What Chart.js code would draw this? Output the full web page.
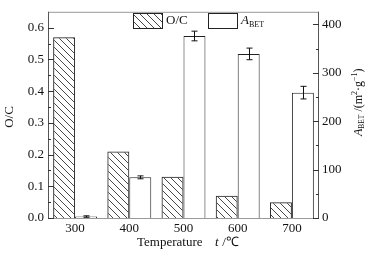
<!DOCTYPE html>
<html>
<head>
<meta charset="utf-8">
<script src="https://cdn.jsdelivr.net/npm/chart.js@4.4.1/dist/chart.umd.min.js"></script>
<style>
  html, body { margin: 0; padding: 0; background: #fff; }
  #wrap { width: 379px; height: 256px; }
</style>
</head>
<body>
<div id="wrap"><canvas id="myChart" width="379" height="256"></canvas></div>
<script>
// dati
const temps = ['300', '400', '500', '600', '700'];
const ocRatio = [0.57, 0.21, 0.13, 0.07, 0.05];
const aBet = [3, 84, 376, 339, 259];
const aBetErr = [1.5, 3, 10, 12, 13];
const ocTicks = [0, 0.1, 0.2, 0.3, 0.4, 0.5, 0.6];
const betTicks = [0, 100, 200, 300, 400];

const FONT = '"Liberation Serif", "Times New Roman", serif';

// pattern a righe diagonali (\\\)
function makeHatch() {
    const s = 7;
    const c = document.createElement('canvas');
    c.width = s; c.height = s;
    const g = c.getContext('2d');
    g.strokeStyle = '#333';
    g.lineWidth = 0.9;
    for (const k of [-s, 0, s]) {
        g.beginPath();
        g.moveTo(k, 0);
        g.lineTo(k + s, s);
        g.stroke();
    }
    return g.createPattern(c, 'repeat');
}
const hatch = makeHatch();

// testo con pedice (es. A_BET)
function drawSub(ctx, x, y, main, sub, rest, size) {
    ctx.font = 'italic ' + size + 'px ' + FONT;
    ctx.fillText(main, x, y);
    x += ctx.measureText(main).width;
    ctx.font = (size * 0.62) + 'px ' + FONT;
    ctx.fillText(sub, x, y + size * 0.28);
    x += ctx.measureText(sub).width;
    if (rest) {
        ctx.font = size + 'px ' + FONT;
        ctx.fillText(rest, x, y);
        x += ctx.measureText(rest).width;
    }
    return x;
}

const decorPlugin = {
    id: 'decor',
    beforeDatasetsDraw(chart) {
        const ctx = chart.ctx;
        const a = chart.chartArea;
        ctx.save();
        ctx.strokeStyle = '#999';
        ctx.lineWidth = 1;
        ctx.strokeRect(a.left + 0.5, a.top + 0.5, a.right - a.left - 1, a.bottom - a.top);
        ctx.restore();
    },
    afterDatasetsDraw(chart) {
        const ctx = chart.ctx;
        const a = chart.chartArea;
        const y = chart.scales.y, y1 = chart.scales.y1;
        ctx.save();
        // asse sinistro e destro
        ctx.strokeStyle = '#555';
        ctx.lineWidth = 1;
        ctx.beginPath();
        ctx.moveTo(a.left + 0.5, a.top); ctx.lineTo(a.left + 0.5, a.bottom);
        ctx.moveTo(a.right - 0.5, a.top); ctx.lineTo(a.right - 0.5, a.bottom);
        ctx.stroke();
        // tacche verso l'interno
        ctx.strokeStyle = '#333';
        ctx.beginPath();
        for (let v = 0; v <= 0.6001; v += 0.05) {
            const p = Math.round(y.getPixelForValue(v)) + 0.5;
            const major = Math.abs(v * 10 - Math.round(v * 10)) < 1e-6;
            ctx.moveTo(a.left, p); ctx.lineTo(a.left + (major ? 6 : 3), p);
        }
        for (let v = 0; v <= 400; v += 50) {
            const p = Math.round(y1.getPixelForValue(v)) + 0.5;
            const major = v % 100 === 0;
            ctx.moveTo(a.right, p); ctx.lineTo(a.right - (major ? 6 : 3), p);
        }
        ctx.stroke();

        // barre di errore
        const meta = chart.getDatasetMeta(1);
        ctx.strokeStyle = '#111';
        ctx.lineWidth = 1;
        meta.data.forEach((bar, i) => {
            const x = Math.round(bar.x) + 0.5;
            const top = y1.getPixelForValue(aBet[i] + aBetErr[i]);
            const bot = y1.getPixelForValue(aBet[i] - aBetErr[i]);
            ctx.beginPath();
            ctx.moveTo(x, top); ctx.lineTo(x, bot);
            ctx.moveTo(x - 3, top); ctx.lineTo(x + 3, top);
            ctx.moveTo(x - 3, bot); ctx.lineTo(x + 3, bot);
            ctx.stroke();
        });

        // legenda
        ctx.fillStyle = hatch;
        ctx.fillRect(133, 13, 29, 15);
        ctx.strokeStyle = '#222';
        ctx.strokeRect(133.5, 13.5, 29, 15);
        ctx.fillStyle = '#fff';
        ctx.fillRect(208, 13, 29, 15);
        ctx.strokeRect(208.5, 13.5, 29, 15);
        ctx.fillStyle = '#111';
        ctx.textBaseline = 'middle';
        ctx.textAlign = 'left';
        ctx.font = '13px ' + FONT;
        ctx.fillText('O/C', 166, 21);
        drawSub(ctx, 241, 21, 'A', 'BET', '', 13);

        // titoli degli assi
        ctx.font = '13px ' + FONT;
        ctx.textAlign = 'center';
        ctx.save();
        ctx.translate(10, 117);
        ctx.rotate(-Math.PI / 2);
        ctx.fillText('O/C', 0, 0);
        ctx.restore();

        ctx.save();
        ctx.translate(359, 103);
        ctx.rotate(-Math.PI / 2);
        ctx.textAlign = 'left';
        drawSub(ctx, -33, 0, 'A', 'BET', ' /(m', 12);
        let xx = -33;
        ctx.font = 'italic 12px ' + FONT;
        xx += ctx.measureText('A').width;
        ctx.font = (12 * 0.62) + 'px ' + FONT;
        xx += ctx.measureText('BET').width;
        ctx.font = '12px ' + FONT;
        xx += ctx.measureText(' /(m').width;
        ctx.font = '8px ' + FONT;
        ctx.fillText('2', xx, -4);
        xx += ctx.measureText('2').width;
        ctx.font = '12px ' + FONT;
        ctx.fillText('\u00b7g', xx, 0);
        xx += ctx.measureText('\u00b7g').width;
        ctx.font = '8px ' + FONT;
        ctx.fillText('\u22121', xx, -4);
        xx += ctx.measureText('\u22121').width;
        ctx.font = '12px ' + FONT;
        ctx.fillText(')', xx, 0);
        ctx.restore();

        ctx.textAlign = 'left';
        ctx.font = '13px ' + FONT;
        ctx.fillText('Temperature', 137, 243);
        ctx.font = 'italic 13px ' + FONT;
        ctx.fillText('t', 215, 243);
        ctx.font = '13px ' + FONT;
        ctx.fillText(' /\u2103', 219, 243);
        ctx.restore();
    }
};

const chartConfig = {
    type: 'bar',
    data: {
        labels: temps,
        datasets: [{
            label: 'O/C',
            data: ocRatio,
            yAxisID: 'y',
            backgroundColor: hatch,
            borderColor: '#222',
            borderWidth: 1
        }, {
            label: 'A_BET',
            data: aBet,
            yAxisID: 'y1',
            backgroundColor: '#fff',
            borderColor: '#222',
            borderWidth: 1
        }]
    },
    options: {
        responsive: false,
        animation: false,
        layout: { padding: { top: 9, left: 0, right: 0, bottom: 0 } },
        categoryPercentage: 0.81,
        barPercentage: 1,
        plugins: { legend: { display: false }, tooltip: { enabled: false } },
        scales: {
            x: {
                grid: { display: false, drawTicks: false },
                border: { display: false },
                ticks: { color: '#111', font: { family: FONT, size: 13 }, padding: 3 },
                afterFit: s => { s.height = 38; }
            },
            y: {
                position: 'left',
                min: 0, max: 0.65,
                grid: { display: false, drawTicks: false },
                border: { display: false },
                afterBuildTicks: s => { s.ticks = ocTicks.map(v => ({ value: v })); },
                ticks: {
                    color: '#111', font: { family: FONT, size: 13 }, padding: 4,
                    callback: v => v.toFixed(1)
                },
                afterFit: s => { s.width = 48; }
            },
            y1: {
                position: 'right',
                min: 0, max: 426,
                grid: { display: false, drawTicks: false },
                border: { display: false },
                afterBuildTicks: s => { s.ticks = betTicks.map(v => ({ value: v })); },
                ticks: { color: '#111', font: { family: FONT, size: 13 }, padding: 3 },
                afterFit: s => { s.width = 60; }
            }
        }
    },
    plugins: [decorPlugin]
};

const myChart = new Chart(document.getElementById('myChart'), chartConfig);
</script>
</body>
</html>
